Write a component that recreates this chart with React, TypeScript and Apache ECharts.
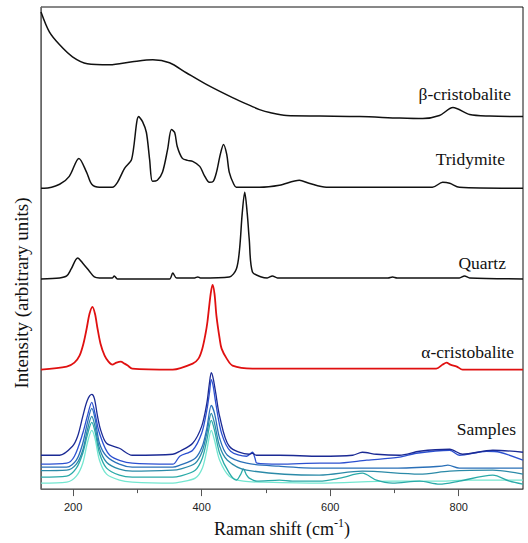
import React, { useEffect, useRef } from "react";
import * as echarts from "echarts";

// Raman shift (cm-1) vs stacked intensity (arbitrary units)
const betaCristobalite: [number, number][] = [
  [150, 479], [163, 459], [179, 446], [199, 434], [222, 427], [257, 426], [292, 429],
  [324, 431], [350, 428], [376, 418], [408, 406], [448, 393], [479, 384], [490, 381],
  [506, 378], [532, 375], [584, 374.5], [646, 374], [708, 372.5], [744, 372], [770, 375],
  [791, 383], [817, 376], [848, 374.5], [900, 374],
];

const tridymite: [number, number][] = [
  [150, 302], [155, 302], [179, 306], [194, 314], [209, 332], [221, 318], [229, 306],
  [241, 303], [261, 303], [269, 308], [280, 322], [291, 331], [302, 374], [308, 369],
  [314, 358], [319, 331], [323.5, 309], [331, 310], [339, 318], [347, 341], [353, 361],
  [358, 358], [362, 344], [370, 332], [378, 330], [386, 329], [397, 324], [404, 315],
  [412, 308], [418, 309], [423, 318], [429, 336], [434, 346], [439, 336], [443, 318],
  [450, 306], [454, 303], [490, 303], [521, 305], [552, 310], [567, 307], [594, 303],
  [759, 303], [775, 308], [786, 307], [801, 303], [900, 302],
];

const quartz: [number, number][] = [
  [150, 211], [179, 212], [190, 214], [197, 221], [207, 232], [216, 226], [225, 219],
  [233, 213], [241, 212], [261, 212], [264, 214], [269, 211], [350, 211], [355, 217],
  [361, 212], [389, 212], [394, 213], [398, 212], [443, 213], [454, 221], [459, 241],
  [463, 276], [467, 298], [471, 276], [474, 251], [479, 218], [493, 213], [502, 212],
  [510, 214], [518, 212], [690, 212], [697, 213], [704, 212], [801, 212], [809, 214],
  [817, 212], [900, 211],
];

const alphaCristobalite: [number, number][] = [
  [150, 120], [190, 123], [202, 127], [210, 134], [216, 146], [221, 161], [225.5, 176],
  [230, 183], [234, 176], [238, 161], [242.6, 146], [249, 134], [255, 128], [261, 125],
  [267.5, 127], [274, 128], [280, 126], [285, 124], [292, 121], [355, 120], [386, 126],
  [395, 131], [401, 141], [406, 156], [409, 168], [414, 196], [417, 205], [420, 196],
  [423, 174], [428, 151], [431, 141], [439, 131], [448, 124], [479, 121], [765, 121],
  [775, 125], [781, 127], [787, 125], [797, 123], [806, 120], [900, 120],
];

const sampleA: [number, number][] = [
  [150, 34], [179, 34], [199, 43], [207, 53], [215, 73], [222, 89], [229, 95], [233, 91],
  [238, 73], [243, 59], [252, 46], [272, 41], [292, 34], [355, 35], [366, 38], [386, 46],
  [400, 63], [408, 86], [412, 106], [415, 117], [418, 111], [422, 96], [428, 73], [443, 43],
  [474, 35], [479, 36], [485, 34], [521, 34], [584, 33], [635, 34], [650, 37], [672, 35],
  [708, 34], [739, 38], [786, 40], [806, 35], [853, 39], [900, 37],
];

const sampleB: [number, number][] = [
  [150, 25], [190, 26], [202, 33], [215, 56], [222, 73], [229, 87], [234, 76], [241, 56],
  [257, 34], [292, 26], [355, 25], [366, 33], [386, 39], [400, 56], [408, 79], [412, 96],
  [415, 110], [418, 103], [422, 86], [431, 56], [445, 38], [470, 33], [479, 37], [483, 31],
  [486, 26], [521, 25], [584, 26], [609, 26], [657, 29], [708, 32], [734, 36], [786, 39],
  [801, 34], [843, 38], [864, 37], [900, 29],
];

const sampleC: [number, number][] = [
  [150, 22], [190, 22], [205, 29], [215, 46], [222, 66], [229, 81], [234, 71], [241, 46],
  [252, 33], [272, 25], [292, 22], [355, 22], [366, 24], [390, 31], [401, 43], [408, 61],
  [415, 84], [420, 76], [428, 51], [440, 34], [470, 26], [520, 23], [583, 21], [700, 21],
  [774, 23], [783, 24], [801, 21], [900, 21],
];

const sampleD: [number, number][] = [
  [150, 18.5], [190, 19], [205, 25], [215, 39], [222, 59], [229, 73], [234, 63], [241, 41],
  [252, 27], [272, 20], [292, 18], [355, 19], [366, 20], [390, 26], [401, 38], [408, 56],
  [415, 76], [420, 66], [428, 43], [440, 29], [470, 19], [583, 14], [650, 18], [739, 15],
  [786, 18], [853, 19], [900, 15],
];

const sampleE: [number, number][] = [
  [150, 12], [190, 13], [205, 21], [215, 36], [222, 54], [229, 67], [234, 58], [241, 36],
  [252, 21], [272, 14], [292, 12], [355, 12], [366, 13], [390, 19], [401, 31], [408, 49],
  [415, 69], [420, 59], [428, 36], [443, 16], [454, 9], [460, 14], [465, 20], [470, 14],
  [474, 11], [486, 8], [521, 9], [541, 8], [583, 8], [615, 11], [650, 16], [672, 9],
  [697, 6], [739, 8], [770, 5], [801, 8], [853, 14], [879, 8], [900, 5],
];

const sampleF: [number, number][] = [
  [150, 6], [190, 7], [205, 13], [215, 26], [222, 46], [229, 59], [234, 51], [241, 29],
  [252, 15], [272, 9], [292, 7], [355, 6], [366, 7], [390, 11], [401, 21], [408, 39],
  [415, 59], [420, 49], [428, 29], [443, 13], [465, 8], [497, 7], [583, 6], [697, 8],
  [770, 8], [817, 9], [900, 9],
];

const majorTicks = [200, 400, 600, 800];
const minorTicks = [300, 500, 700];

const spectrumLabels = ["β-cristobalite", "Tridymite", "Quartz", "α-cristobalite", "Samples"];

export default function App() {
  const ref = useRef<HTMLDivElement>(null);

  useEffect(() => {
    document.body.style.margin = "0";
    if (!ref.current) return;
    const chart = echarts.init(ref.current, null, { renderer: "svg" });

    const black = (name: string, data: [number, number][], color = "#111", width = 1.5) => ({
      name,
      type: "line",
      data,
      showSymbol: false,
      smooth: 0.3,
      lineStyle: { color, width },
      z: 3,
    });

    const sample = (name: string, data: [number, number][], color: string) => ({
      name,
      type: "line",
      data,
      showSymbol: false,
      smooth: 0.3,
      lineStyle: { color, width: 1.3 },
      z: 2,
    });

    const serif = "'Liberation Serif', 'DejaVu Serif', serif";
    const labelPos = [
      { right: 511, y: 94 },
      { right: 505, y: 159 },
      { right: 506, y: 263 },
      { right: 514, y: 352 },
      { right: 516, y: 429 },
    ];

    chart.setOption({
      animation: false,
      backgroundColor: "#fff",
      grid: {
        left: 41,
        right: 5,
        top: 7,
        bottom: 52,
        show: true,
        borderColor: "#111",
        borderWidth: 1,
        backgroundColor: "transparent",
      },
      xAxis: [
        {
          type: "value",
          min: 150,
          max: 900,
          position: "bottom",
          name: "{n|Raman shift (cm}{sup|-1}{n|)}",
          nameLocation: "middle",
          nameGap: 22,
          nameTextStyle: {
            fontFamily: serif,
            fontSize: 18,
            color: "#111",
            rich: {
              n: { fontFamily: serif, fontSize: 18, color: "#111", verticalAlign: "bottom" },
              sup: { fontFamily: serif, fontSize: 12, verticalAlign: "top", padding: [0, 0, 9, 0], color: "#111" },
            },
          },
          axisLine: { show: true, lineStyle: { color: "#666", width: 1 } },
          axisTick: { show: true, length: 7, customValues: majorTicks, lineStyle: { color: "#555" } },
          axisLabel: {
            customValues: majorTicks,
            fontFamily: "'Liberation Sans', Arial, sans-serif",
            fontSize: 11,
            color: "#222",
            margin: 12,
          },
          splitLine: { show: false },
        },
        {
          type: "value",
          min: 150,
          max: 900,
          position: "bottom",
          axisLine: { show: false },
          axisTick: { show: true, length: 4, customValues: minorTicks, lineStyle: { color: "#555" } },
          axisLabel: { show: false },
          splitLine: { show: false },
        },
      ],
      yAxis: {
        type: "value",
        min: 0,
        max: 484,
        axisLine: { show: true, lineStyle: { color: "#666", width: 1 } },
        axisTick: { show: false },
        axisLabel: { show: false },
        splitLine: { show: false },
      },
      series: [
        black("β-cristobalite", betaCristobalite),
        black("Tridymite", tridymite),
        black("Quartz", quartz),
        black("α-cristobalite", alphaCristobalite, "#e01010", 1.8),
        sample("Sample 6", sampleF, "#74e6d0"),
        sample("Sample 5", sampleE, "#2aaaa8"),
        sample("Sample 4", sampleD, "#2b8aa8"),
        sample("Sample 3", sampleC, "#2a70b8"),
        sample("Sample 2", sampleB, "#2c50d0"),
        sample("Sample 1", sampleA, "#1b2a94"),
      ],
      graphic: [
        ...spectrumLabels.map((t, i) => ({
          type: "text",
          x: labelPos[i].right,
          y: labelPos[i].y,
          style: {
            text: t,
            fontFamily: serif,
            fontSize: 17.5,
            fill: "#111",
            align: "right",
            verticalAlign: "middle",
          },
        })),
        {
          type: "text",
          x: 21,
          y: 293,
          rotation: Math.PI / 2,
          style: {
            text: "Intensity (arbitrary units)",
            fontFamily: serif,
            fontSize: 19,
            fill: "#111",
            align: "center",
            verticalAlign: "middle",
          },
        },
      ],
    });

    return () => chart.dispose();
  }, []);

  return <div ref={ref} style={{ width: 528, height: 543 }} />;
}
